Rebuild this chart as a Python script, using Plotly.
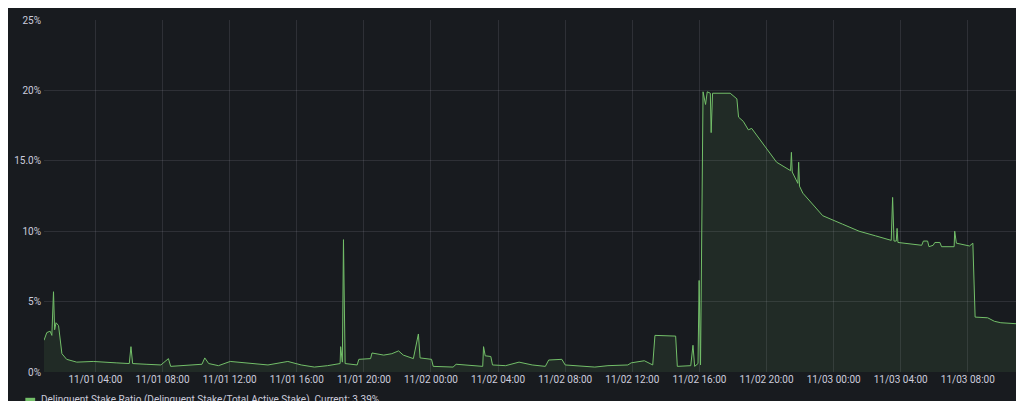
import plotly.graph_objects as go
import pandas as pd

minutes = [56,66,78,84,90,94,99,108,120,137,173,232,314,361,367,373,421,474,501,509,621,631,645,680,722,787,857,928,976,1023,1070,1115,1117,1123,1127,1133,1176,1182,1224,1229,1271,1300,1324,1341,1377,1395,1401,1442,1448,1519,1530,1625,1628,1634,1654,1660,1707,1755,1802,
           1849,1861,1908,1920,2026,2073,2144,2156,2203,2233,2241,2315,2321,2369,2377,2383,2395,2399,2404,2413,2422,2428,2439,2442,2447,2510,2534,2540,2557,2575,2587,2640,2676,2726,2729,2732,2752,2755,2758,2770,2841,2912,2971,3030,3086,3091,3096,3104,3107,3110,3148,3195,3201,3216,3221,3236,3242,3260,3266,3311,3313,3319,3366,3378,3386,3431,3455,3478,3555,3566]
values = [2.25,2.8,2.9,2.6,5.7,3.0,3.5,3.3,1.3,0.9,0.7,0.75,0.65,0.6,1.8,0.6,0.55,0.5,0.95,0.4,0.55,1.0,0.6,0.45,0.75,0.65,0.5,0.75,0.5,0.35,0.45,0.6,1.8,0.7,9.4,0.6,0.5,0.9,0.95,1.35,1.2,1.3,1.5,1.2,0.95,2.7,1.0,0.9,0.4,0.35,0.55,0.4,1.8,1.15,1.1,0.5,0.45,0.7,0.5,
          0.4,0.85,0.9,0.5,0.35,0.45,0.5,0.65,0.8,0.5,2.6,2.55,0.4,0.45,1.9,0.4,0.6,6.5,0.5,19.9,19.0,19.9,19.8,17.0,19.8,19.8,19.4,18.1,17.8,17.2,17.3,15.9,14.9,14.3,15.6,14.2,13.4,14.9,13.2,12.7,11.1,10.5,10.0,9.67,9.35,12.4,9.3,9.3,10.2,9.2,9.1,9.0,9.3,9.3,8.9,9.0,9.2,9.2,8.9,8.9,10.0,9.15,8.95,9.15,3.9,3.85,3.6,3.5,3.4,3.39]
y_tickvals = [0, 5, 10, 15, 20, 25]
y_ticktext = ["0%", "5%", "10%", "15.0%", "20%", "25%"]
series_name = "Delinquent Stake Ratio (Delinquent Stake/Total Active Stake)  Current: 3.39%"

base = pd.Timestamp("2022-11-01 00:00")
times = [base + pd.Timedelta(minutes=m) for m in minutes]
xticks = pd.date_range("2022-11-01 04:00", "2022-11-03 08:00", freq="4h")

fig = go.Figure(go.Scatter(
    x=times, y=values, mode="lines", name=series_name,
    line=dict(color="#73bf69", width=1), fill="tozeroy",
    fillcolor="rgba(115,191,105,0.1)", showlegend=False))

grid = "rgba(204,204,220,0.12)"
fig.update_layout(
    width=1024, height=401,
    paper_bgcolor="#181b1f", plot_bgcolor="#181b1f",
    margin=dict(l=27, r=6, t=8, b=37),
    font=dict(family="Roboto", size=10, color="#ccccdc"),
    xaxis=dict(range=[base + pd.Timedelta(minutes=56), base + pd.Timedelta(minutes=3568)],
               tickvals=list(xticks), ticktext=[t.strftime("%m/%d %H:%M") for t in xticks],
               tickangle=0, showgrid=True, gridcolor=grid, zeroline=False, showline=False, ticks=""),
    yaxis=dict(range=[0, 25], tickvals=y_tickvals, ticktext=y_ticktext,
               showgrid=True, gridcolor=grid, zeroline=False, ticks="", ticklabelstandoff=2),
)
fig.add_shape(type="line", xref="paper", yref="paper", x0=-0.019, x1=-0.009, y0=-0.079, y1=-0.079,
              line=dict(color="#73bf69", width=4))
fig.add_annotation(xref="paper", yref="paper", x=-0.005, y=-0.079, xanchor="left", yanchor="middle",
                   text=series_name, showarrow=False, font=dict(size=10, color="#ccccdc"))
fig.write_html("out.html")
